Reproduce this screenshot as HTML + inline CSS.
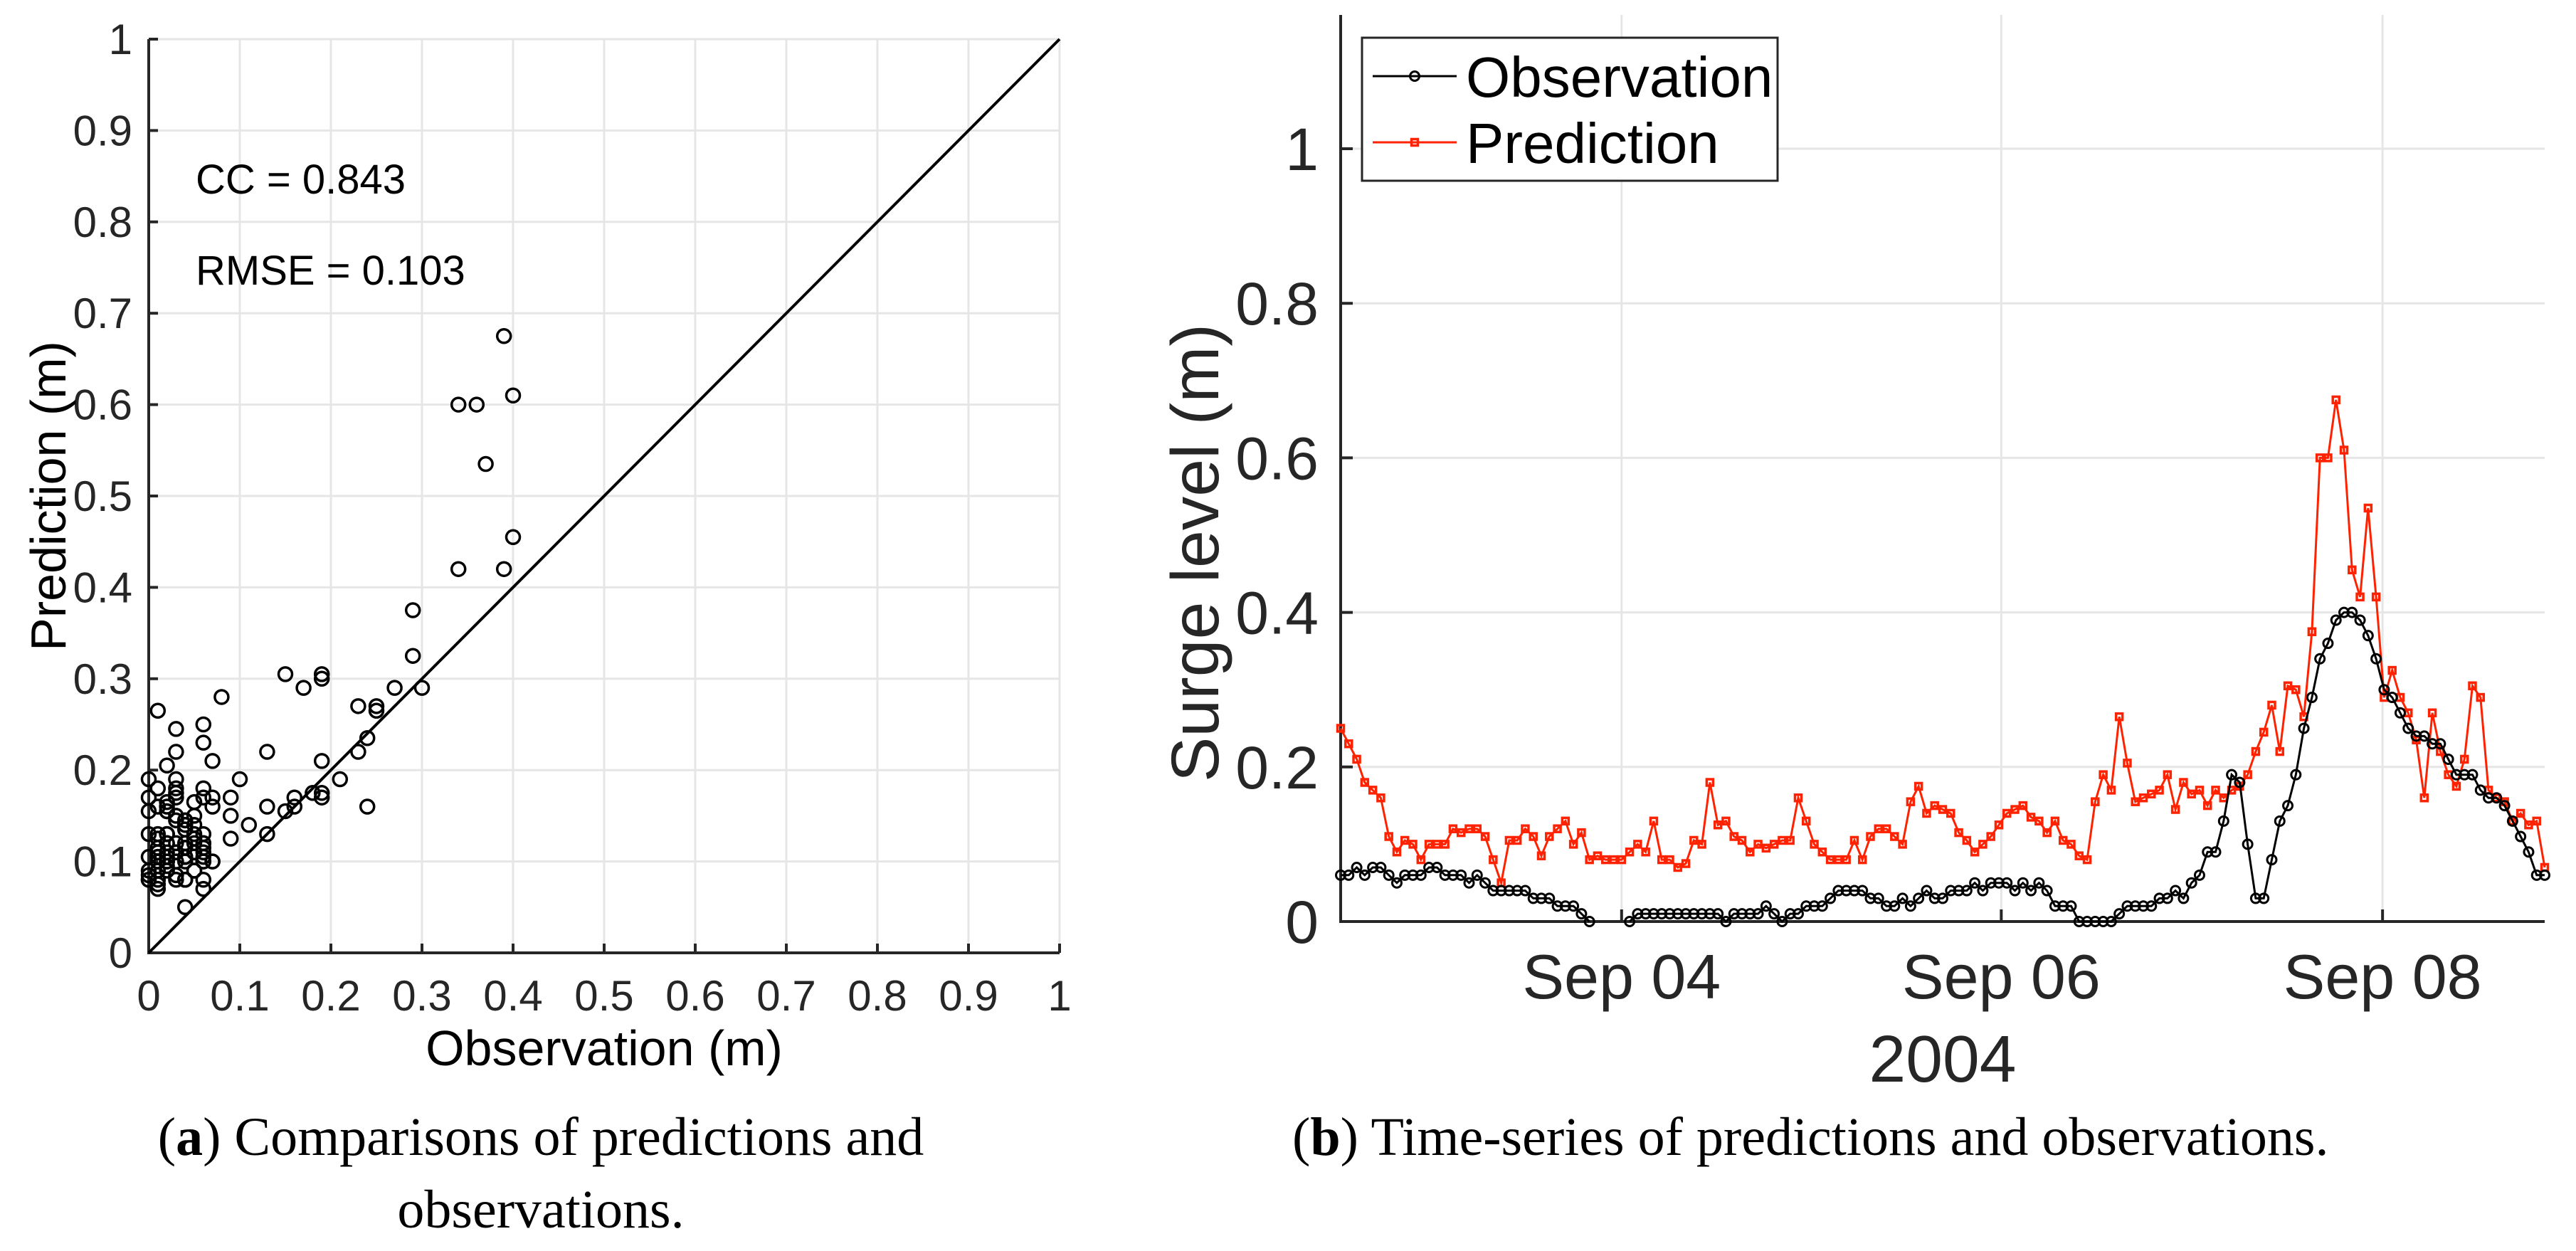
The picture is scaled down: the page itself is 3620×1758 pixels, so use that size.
<!DOCTYPE html>
<html><head><meta charset="utf-8"><style>
html,body{margin:0;padding:0;background:#fff;}
svg{display:block;}
text{font-family:"Liberation Sans",Arial,sans-serif;}
.serif{font-family:"Liberation Serif","Times New Roman",serif;}
</style></head><body>
<svg id="fig" xmlns="http://www.w3.org/2000/svg" width="3620" height="1758" viewBox="0 0 3620 1758">
<rect x="0" y="0" width="3620" height="1758" fill="#fff"/>
<g id="left"></g>
<g id="right"></g>
</svg>
<script>
const obsValues = [0.06,0.06,0.07,0.06,0.07,0.07,0.06,0.05,0.06,0.06,
0.06,0.07,0.07,0.06,0.06,0.06,0.05,0.06,0.05,0.04,
0.04,0.04,0.04,0.04,0.03,0.03,0.03,0.02,0.02,0.02,
0.01,0.00,null,null,null,null,0.00,0.01,0.01,0.01,
0.01,0.01,0.01,0.01,0.01,0.01,0.01,0.01,0.00,0.01,
0.01,0.01,0.01,0.02,0.01,0.00,0.01,0.01,0.02,0.02,
0.02,0.03,0.04,0.04,0.04,0.04,0.03,0.03,0.02,0.02,
0.03,0.02,0.03,0.04,0.03,0.03,0.04,0.04,0.04,0.05,
0.04,0.05,0.05,0.05,0.04,0.05,0.04,0.05,0.04,0.02,
0.02,0.02,0.00,0.00,0.00,0.00,0.00,0.01,0.02,0.02,
0.02,0.02,0.03,0.03,0.04,0.03,0.05,0.06,0.09,0.09,
0.13,0.19,0.18,0.10,0.03,0.03,0.08,0.13,0.15,0.19,
0.25,0.29,0.34,0.36,0.39,0.40,0.40,0.39,0.37,0.34,
0.30,0.29,0.27,0.25,0.24,0.24,0.23,0.23,0.21,0.19,
0.19,0.19,0.17,0.16,0.16,0.15,0.13,0.11,0.09,0.06,0.06];
const predValues = [0.25,0.23,0.21,0.18,0.17,0.16,0.11,0.09,0.105,0.10,
0.08,0.10,0.10,0.10,0.12,0.115,0.12,0.12,0.11,0.08,
0.05,0.105,0.105,0.12,0.11,0.085,0.11,0.12,0.13,0.10,
0.115,0.08,0.085,0.08,0.08,0.08,0.09,0.10,0.09,0.13,
0.08,0.08,0.07,0.075,0.105,0.10,0.18,0.125,0.13,0.11,
0.105,0.09,0.10,0.095,0.10,0.105,0.105,0.16,0.13,0.10,
0.09,0.08,0.08,0.08,0.105,0.08,0.11,0.12,0.12,0.11,
0.10,0.155,0.175,0.14,0.15,0.145,0.14,0.115,0.105,0.09,
0.10,0.11,0.125,0.14,0.145,0.15,0.135,0.13,0.115,0.13,
0.105,0.10,0.085,0.08,0.155,0.19,0.17,0.265,0.205,0.155,
0.16,0.165,0.17,0.19,0.145,0.18,0.165,0.17,0.15,0.17,
0.16,0.17,0.175,0.19,0.22,0.245,0.28,0.22,0.305,0.30,
0.265,0.375,0.60,0.60,0.675,0.61,0.455,0.42,0.535,0.42,
0.29,0.325,0.29,0.27,0.235,0.16,0.27,0.22,0.19,0.175,
0.21,0.305,0.29,0.17,0.16,0.155,0.13,0.14,0.125,0.13,0.07];
const scatterTicks = [0,0.1,0.2,0.3,0.4,0.5,0.6,0.7,0.8,0.9,1];
const scatterTickLabels = ["0","0.1","0.2","0.3","0.4","0.5","0.6","0.7","0.8","0.9","1"];
const surgeTicks = [0,0.2,0.4,0.6,0.8,1];
const surgeTickLabels = ["0","0.2","0.4","0.6","0.8","1"];
const dateTickIndex = [35.0,82.3,129.8];
const dateTickLabels = ["Sep 04","Sep 06","Sep 08"];

const NS="http://www.w3.org/2000/svg";
function mk(parent,tag,attrs,txt){const e=document.createElementNS(NS,tag);for(const k in attrs)e.setAttribute(k,attrs[k]);if(txt!==undefined)e.textContent=txt;parent.appendChild(e);return e;}

/* ---------- Left scatter ---------- */
const L=document.getElementById('left');
const lx=v=>209+v*1280, ly=v=>1339-v*1284;
scatterTicks.forEach((t,i)=>{
  let g=mk(L,'line',{x1:lx(t),x2:lx(t),y1:ly(0),y2:ly(1),stroke:'#e6e6e6','stroke-width':3});
  
  
  g=mk(L,'line',{x1:lx(0),x2:lx(1),y1:ly(t),y2:ly(t),stroke:'#e6e6e6','stroke-width':3});
  
  
});
let ax=mk(L,'path',{d:`M${lx(0)},${ly(1)} V${ly(0)} H${lx(1)}`,fill:'none',stroke:'#262626','stroke-width':4});


scatterTicks.forEach((t,i)=>{
  let k=mk(L,'line',{x1:lx(t),x2:lx(t),y1:ly(0),y2:ly(0)-13,stroke:'#262626','stroke-width':4});
  
  
  k=mk(L,'line',{x1:lx(0),x2:lx(0)+13,y1:ly(t),y2:ly(t),stroke:'#262626','stroke-width':4});
  
  
  let tx=mk(L,'text',{x:lx(t),y:1420,'text-anchor':'middle','font-size':60,fill:'#262626'},scatterTickLabels[i]);
  
  
  tx=mk(L,'text',{x:186,y:ly(t)+21,'text-anchor':'end','font-size':60,fill:'#262626'},scatterTickLabels[i]);
  
  
});
let dl=mk(L,'line',{x1:lx(0),y1:ly(0),x2:lx(1),y2:ly(1),stroke:'#000','stroke-width':4});


obsValues.forEach((o,i)=>{
  if(o===null)return;
  const c=mk(L,'circle',{cx:lx(o),cy:ly(predValues[i]),r:9.5,fill:'none',stroke:'#000','stroke-width':3.5});
  
  
});
let t1=mk(L,'text',{x:275,y:272,'font-size':58,fill:'#000'},'CC = 0.843');


let t2=mk(L,'text',{x:275,y:400,'font-size':58,fill:'#000'},'RMSE = 0.103');


let xl=mk(L,'text',{x:849,y:1497,'text-anchor':'middle','font-size':70,fill:'#000'},'Observation (m)');


let yl=mk(L,'text',{x:0,y:0,'text-anchor':'middle','font-size':70,fill:'#000',transform:'translate(92,697) rotate(-90)'},'Prediction (m)');


let ca=mk(L,'text',{x:760,y:1623,'text-anchor':'middle','font-size':76,fill:'#000','class':'serif'});


ca.innerHTML='(<tspan font-weight="bold">a</tspan>) Comparisons of predictions and';
let ca2=mk(L,'text',{x:760,y:1725,'text-anchor':'middle','font-size':76,fill:'#000','class':'serif'},'observations.');



/* ---------- Right time series ---------- */
const R=document.getElementById('right');
const rx=i=>1884+i*(1692/150), ry=v=>1295-v*1086;
surgeTicks.forEach((t,i)=>{
  let g=mk(R,'line',{x1:rx(0),x2:rx(150),y1:ry(t),y2:ry(t),stroke:'#e6e6e6','stroke-width':3});
  
  
});
dateTickIndex.forEach(d=>{
  let g=mk(R,'line',{x1:rx(d),x2:rx(d),y1:21,y2:ry(0),stroke:'#e6e6e6','stroke-width':3});
  
  
});
let ax2=mk(R,'path',{d:`M${rx(0)},21 V${ry(0)} H${rx(150)}`,fill:'none',stroke:'#262626','stroke-width':4});


surgeTicks.forEach((t,i)=>{
  let k=mk(R,'line',{x1:rx(0),x2:rx(0)+17,y1:ry(t),y2:ry(t),stroke:'#262626','stroke-width':4});
  
  
  let tx=mk(R,'text',{x:1853,y:ry(t)+30,'text-anchor':'end','font-size':84,fill:'#262626'},surgeTickLabels[i]);
  
  
});
dateTickIndex.forEach((d,i)=>{
  let k=mk(R,'line',{x1:rx(d),x2:rx(d),y1:ry(0),y2:ry(0)-17,stroke:'#262626','stroke-width':4});
  
  
  let tx=mk(R,'text',{x:rx(d),y:1403,'text-anchor':'middle','font-size':88,fill:'#262626'},dateTickLabels[i]);
  
  
});
let yr=mk(R,'text',{x:2730,y:1520,'text-anchor':'middle','font-size':93,fill:'#262626'},'2004');


let yl2=mk(R,'text',{x:0,y:0,'text-anchor':'middle','font-size':95,fill:'#262626',transform:'translate(1712,777) rotate(-90)'},'Surge level (m)');



// prediction line
let pd='';predValues.forEach((v,i)=>{pd+=(i?'L':'M')+rx(i).toFixed(1)+','+ry(v).toFixed(1);});
let pl=mk(R,'path',{d:pd,fill:'none',stroke:'#ff2200','stroke-width':3});


predValues.forEach((v,i)=>{
  const s=mk(R,'rect',{x:rx(i)-4.5,y:ry(v)-4.5,width:9,height:9,fill:'none',stroke:'#ff2200','stroke-width':3.5});
  
  
});
// observation line (with gap)
let od='',pen=false;obsValues.forEach((v,i)=>{if(v===null){pen=false;return;}od+=(pen?'L':'M')+rx(i).toFixed(1)+','+ry(v).toFixed(1);pen=true;});
let ol=mk(R,'path',{d:od,fill:'none',stroke:'#000','stroke-width':3});


obsValues.forEach((v,i)=>{
  if(v===null)return;
  const c=mk(R,'circle',{cx:rx(i),cy:ry(v),r:6.5,fill:'none',stroke:'#000','stroke-width':3});
  
  
});
// legend
const LG=mk(R,'g',{});


mk(LG,'rect',{x:1914,y:53,width:584,height:201,fill:'#fff',stroke:'#262626','stroke-width':3});
let le1=mk(LG,'g',{});


mk(le1,'line',{x1:1929,x2:2047,y1:107,y2:107,stroke:'#000','stroke-width':3});
mk(le1,'circle',{cx:1988,cy:107,r:6.5,fill:'none',stroke:'#000','stroke-width':3});
mk(le1,'text',{x:2060,y:136,'font-size':80,fill:'#000'},'Observation');
let le2=mk(LG,'g',{});


mk(le2,'line',{x1:1929,x2:2047,y1:200,y2:200,stroke:'#ff2200','stroke-width':3});
mk(le2,'rect',{x:1983.5,y:195.5,width:9,height:9,fill:'none',stroke:'#ff2200','stroke-width':3.5});
mk(le2,'text',{x:2060,y:229,'font-size':80,fill:'#000'},'Prediction');
// caption b
let cb=mk(R,'text',{x:1816,y:1623,'text-anchor':'start','font-size':76,fill:'#000','class':'serif'});


cb.innerHTML='(<tspan font-weight="bold">b</tspan>) Time-series of predictions and observations.';
</script>
</body></html>
